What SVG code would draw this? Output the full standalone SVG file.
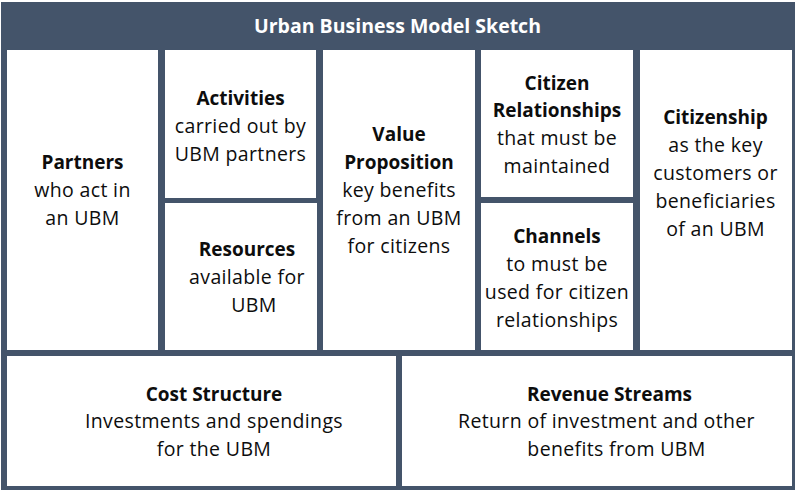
<svg xmlns="http://www.w3.org/2000/svg" width="795" height="490" viewBox="0 0 795 490">
<style>
.bg{fill:#44546A}
.box{fill:#FFFFFF}
text{font-family:"Open Sans","Noto Sans","Liberation Sans",sans-serif;font-size:19.5px;letter-spacing:0.35px;text-anchor:middle;fill:#0D0D0D}
.h{font-weight:bold;font-size:19px;letter-spacing:0}
.title{fill:#FFFFFF;font-weight:bold;font-size:19.5px;letter-spacing:0}
</style>
<rect class="bg" x="1" y="2" width="794" height="488"/>
<g id="title"><text class="title" x="397.5" y="33">Urban Business Model Sketch</text></g>
<g id="partners">
<rect class="box" x="7" y="50" width="151" height="300"/>
<text class="h" x="82.5" y="169">Partners</text>
<text x="82.5" y="197">who act in</text>
<text x="82.5" y="225">an UBM</text>
</g>
<g id="activities">
<rect class="box" x="165" y="50" width="151" height="148"/>
<text class="h" x="240.5" y="105">Activities</text>
<text x="240.5" y="133">carried out by</text>
<text x="240.5" y="161">UBM partners</text>
</g>
<g id="resources">
<rect class="box" x="165" y="203" width="152" height="147"/>
<text class="h" x="247" y="256">Resources</text>
<text x="247" y="284">available for</text>
<text x="254" y="312">UBM</text>
</g>
<g id="value">
<rect class="box" x="323" y="50" width="152" height="300"/>
<text class="h" x="399" y="141">Value</text>
<text class="h" x="399" y="169">Proposition</text>
<text x="399" y="197">key benefits</text>
<text x="399" y="225">from an UBM</text>
<text x="399" y="253">for citizens</text>
</g>
<g id="relationships">
<rect class="box" x="481" y="50" width="152" height="147"/>
<text class="h" x="557" y="90">Citizen</text>
<text class="h" x="557" y="117">Relationships</text>
<text x="557" y="145">that must be</text>
<text x="557" y="173">maintained</text>
</g>
<g id="channels">
<rect class="box" x="481" y="203" width="152" height="147"/>
<text class="h" x="557" y="243">Channels</text>
<text x="557" y="271">to must be</text>
<text x="557" y="299">used for citizen</text>
<text x="557" y="327">relationships</text>
</g>
<g id="citizenship">
<rect class="box" x="640" y="50" width="152" height="300"/>
<text class="h" x="715.5" y="124">Citizenship</text>
<text x="715.5" y="152">as the key</text>
<text x="715.5" y="180">customers or</text>
<text x="715.5" y="208">beneficiaries</text>
<text x="715.5" y="236">of an UBM</text>
</g>
<g id="cost">
<rect class="box" x="7" y="356" width="389" height="130"/>
<text class="h" x="214" y="401">Cost Structure</text>
<text x="214" y="428">Investments and spendings</text>
<text x="214" y="456">for the UBM</text>
</g>
<g id="revenue">
<rect class="box" x="402" y="356" width="390" height="130"/>
<text class="h" x="609.5" y="401">Revenue Streams</text>
<text x="606.5" y="428">Return of investment and other</text>
<text x="616.5" y="456">benefits from UBM</text>
</g>
<g id="connectors"/>
</svg>
